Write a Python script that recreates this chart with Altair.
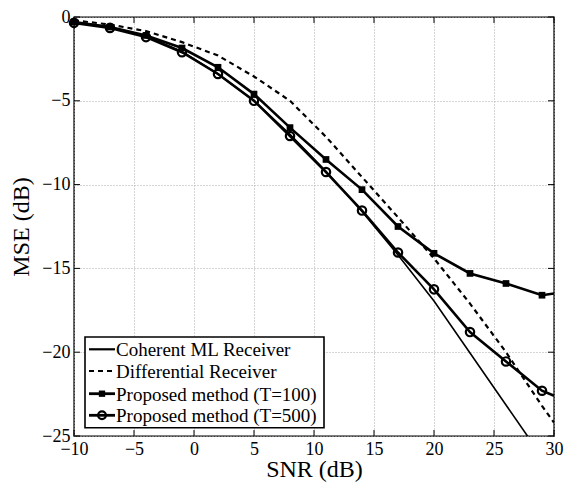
import altair as alt
import pandas as pd

FONT = "Liberation Serif"

snr = [-10, -7, -4, -1, 2, 5, 8, 11, 14, 17, 20, 23, 26, 29]
snr_ext = snr + [30]
coherent = [-0.3, -0.6, -1.15, -2.05, -3.4, -5.0, -7.0, -9.2, -11.6, -14.2, -16.95, -20.05, -23.15, -26.25]
differential = [-0.2, -0.45, -0.84, -1.5, -2.3, -3.55, -5.0, -7.15, -9.55, -11.95, -14.4, -17.1, -20.0, -23.2, -24.2]
t100 = [-0.3, -0.6, -1.1, -1.85, -3.0, -4.6, -6.6, -8.5, -10.3, -12.5, -14.1, -15.3, -15.9, -16.6, -16.5]
t500 = [-0.35, -0.65, -1.2, -2.1, -3.4, -5.0, -7.1, -9.25, -11.55, -14.05, -16.25, -18.8, -20.55, -22.3, -22.6]

x_ticks = [-10, -5, 0, 5, 10, 15, 20, 25, 30]
y_ticks = [-25, -20, -15, -10, -5, 0]
legend_labels = ["Coherent ML Receiver", "Differential Receiver",
                 "Proposed method (T=100)", "Proposed method (T=500)"]

W, H = 480, 419

xs = alt.Scale(domain=[-10, 30], nice=False, zero=False)
ys = alt.Scale(domain=[-25, 0], nice=False, zero=False)

xaxis = alt.Axis(values=x_ticks, title="SNR (dB)", grid=True, ticks=False, domain=False,
                 labelFlush=False, labelPadding=4, titleBaseline="alphabetic", titleY=40)
yaxis = alt.Axis(values=y_ticks, title="MSE (dB)", grid=True, ticks=False, domain=False,
                 labelFlush=False, labelPadding=4, titlePadding=8)

X = alt.X("x:Q", scale=xs, axis=xaxis)
Y = alt.Y("y:Q", scale=ys, axis=yaxis)

df_coh = pd.DataFrame({"x": snr, "y": coherent})
df_dif = pd.DataFrame({"x": snr_ext, "y": differential})
df_100 = pd.DataFrame({"x": snr_ext, "y": t100})
df_500 = pd.DataFrame({"x": snr_ext, "y": t500})
df_100m = pd.DataFrame({"x": snr, "y": t100[:len(snr)]})
df_500m = pd.DataFrame({"x": snr, "y": t500[:len(snr)]})

l_coh = alt.Chart(df_coh).mark_line(color="black", strokeWidth=1.6, clip=True).encode(x=X, y=Y)
l_dif = alt.Chart(df_dif).mark_line(color="black", strokeWidth=2.2, strokeDash=[5, 4], clip=True).encode(x=X, y=Y)
l_100 = alt.Chart(df_100).mark_line(color="black", strokeWidth=2.6, clip=True).encode(x=X, y=Y)
l_500 = alt.Chart(df_500).mark_line(color="black", strokeWidth=2.6, clip=True).encode(x=X, y=Y)
p_100 = alt.Chart(df_100m).mark_point(shape="square", filled=True, color="black", size=45, opacity=1).encode(x=X, y=Y)
p_500 = alt.Chart(df_500m).mark_point(shape="circle", filled=False, color="black", size=70,
                                      strokeWidth=2.2, opacity=1).encode(x=X, y=Y)

# inward tick marks on all four sides
df_xt = pd.DataFrame({"x": x_ticks})
df_yt = pd.DataFrame({"y": y_ticks})
tk = dict(color="black", strokeWidth=1)
t_bot = alt.Chart(df_xt).mark_rule(**tk).encode(x=X, y=alt.value(H), y2=alt.value(H - 6))
t_top = alt.Chart(df_xt).mark_rule(**tk).encode(x=X, y=alt.value(0), y2=alt.value(6))
t_lft = alt.Chart(df_yt).mark_rule(**tk).encode(y=Y, x=alt.value(0), x2=alt.value(6))
t_rgt = alt.Chart(df_yt).mark_rule(**tk).encode(y=Y, x=alt.value(W), x2=alt.value(W - 6))

# legend box (anchored to the lower-left corner of the plot)
one = pd.DataFrame({"a": [0]})
box = alt.Chart(one).mark_rect(fill="white", stroke="black", strokeWidth=1.6).encode(
    x=alt.value(11), x2=alt.value(250), y=alt.value(H - 99), y2=alt.value(H - 8.3))

legend_layers = [box]
row_y = [H - 86.7, H - 65, H - 42.3, H - 20.7]
line_styles = [
    dict(strokeWidth=2.2),
    dict(strokeWidth=2.2, strokeDash=[5, 4]),
    dict(strokeWidth=2.8),
    dict(strokeWidth=2.8),
]
for i, (lab, ry, st) in enumerate(zip(legend_labels, row_y, line_styles)):
    legend_layers.append(alt.Chart(one).mark_rule(color="black", **st).encode(
        x=alt.value(15), x2=alt.value(41), y=alt.value(ry)))
    legend_layers.append(alt.Chart(one).mark_text(
        text=lab, font=FONT, fontSize=19, align="left", baseline="middle", color="black").encode(
        x=alt.value(42), y=alt.value(ry + 1)))
legend_layers.append(alt.Chart(one).mark_point(shape="square", filled=True, color="black", size=40, opacity=1).encode(
    x=alt.value(28), y=alt.value(row_y[2])))
legend_layers.append(alt.Chart(one).mark_point(shape="circle", filled=False, color="black", size=60,
                                               strokeWidth=2.2, opacity=1).encode(
    x=alt.value(28), y=alt.value(row_y[3])))

chart = alt.layer(
    l_coh, l_dif, l_100, l_500, p_100, p_500,
    t_bot, t_top, t_lft, t_rgt,
    *legend_layers,
).properties(
    width=W, height=H,
    autosize=alt.AutoSizeParams(type="none"),
    padding={"left": 66, "top": 9, "right": 10, "bottom": 48},
    background="white",
).configure_view(
    stroke="black", strokeWidth=1.4
).configure_axis(
    labelFont=FONT, labelFontSize=18, labelColor="black",
    titleFont=FONT, titleFontSize=24, titleColor="black", titleFontWeight="normal",
    gridColor="#aaaaaa", gridDash=[1, 2], gridWidth=1,
)

chart.save("out.html", embed_options={"renderer": "svg", "actions": False})
